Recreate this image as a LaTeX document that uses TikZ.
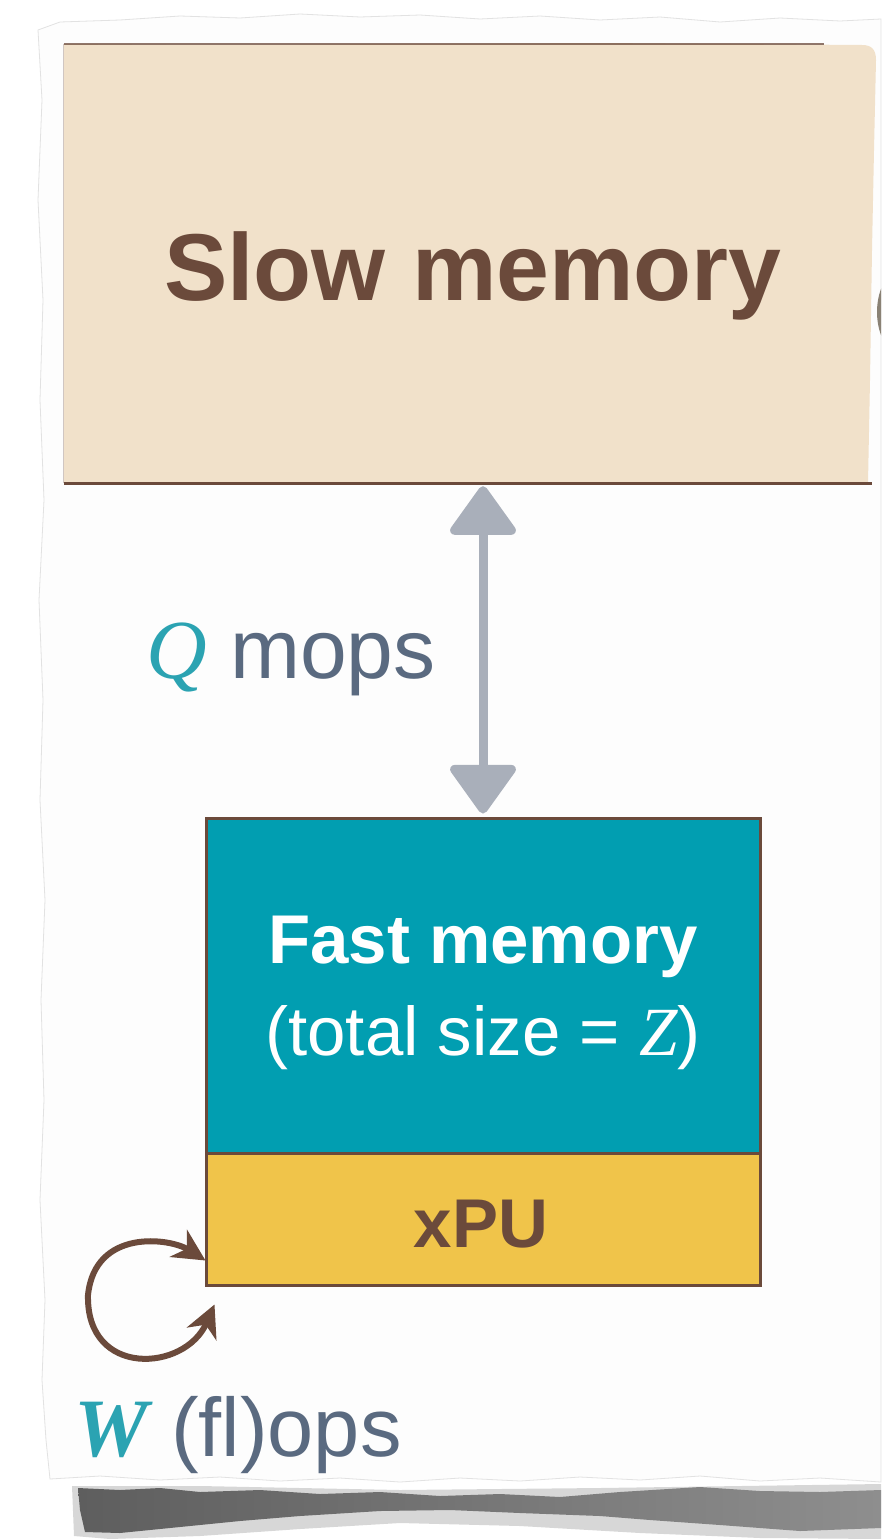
\documentclass[tikz,border=0pt]{standalone}
\usepackage{fontspec}
\setmainfont{Liberation Sans}
\newfontfamily\varfont{Liberation Serif}
\usetikzlibrary{arrows.meta,calc}

\definecolor{slowfill}{HTML}{F1E1CA}
\definecolor{boxbrown}{HTML}{6B4A3B}
\definecolor{fastfill}{HTML}{019EB1}
\definecolor{xpufill}{HTML}{F0C44A}
\definecolor{arrowgrey}{HTML}{A9AFBA}
\definecolor{labelgrey}{HTML}{5A6A80}
\definecolor{varteal}{HTML}{2BA3B2}
\definecolor{paperfill}{HTML}{FDFDFD}
\definecolor{paperedge}{HTML}{E2E2E2}
\definecolor{shadowdark}{HTML}{5E5E5E}
\definecolor{shadowlight}{HTML}{8E8E8E}
\definecolor{backshape}{HTML}{8A8275}

\begin{document}
\begin{tikzpicture}[x=1pt,y=-1pt,
  unitbox/.style={rectangle, inner sep=0pt, draw=boxbrown, line width=3pt},
  textlabel/.style={inner sep=0pt, anchor=base},
  memarrow/.style={draw=arrowgrey, line width=9pt,
    {Triangle[length=52pt,width=72pt,round]}-{Triangle[length=52pt,width=72pt,round]}},
  looparrow/.style={draw=boxbrown, line width=6pt,
    {Stealth[length=32pt,width=32pt,inset=10pt]}-{Stealth[length=32pt,width=32pt,inset=10pt]}}]
\useasboundingbox (0,0) rectangle (881,1539);
\fill[white] (0,0) rectangle (881,1539);

% soft shadow under the torn sheet
\fill[shadowlight, opacity=0.35] (72,1486) -- (200,1486) -- (400,1490) -- (600,1488)
  -- (881,1484) -- (881,1539) -- (760,1538) -- (640,1533) -- (520,1526) -- (400,1523)
  -- (300,1529) -- (200,1536) -- (110,1539) -- (74,1536) -- cycle;
\shade[left color=shadowdark, right color=shadowlight]
  (78,1488) -- (120,1490) -- (160,1488) -- (200,1492) -- (260,1490)
  -- (320,1494) -- (380,1492) -- (440,1496) -- (500,1494) -- (560,1497) -- (620,1492)
  -- (700,1487) -- (760,1491) -- (820,1492) -- (881,1490) -- (881,1528) -- (800,1531)
  -- (720,1525) -- (650,1520) -- (600,1516) -- (520,1513) -- (450,1510) -- (380,1511)
  -- (300,1516) -- (240,1521) -- (180,1527) -- (120,1533) -- (85,1532) -- (80,1510) -- cycle;

% torn sheet
\filldraw[fill=paperfill, draw=paperedge, line width=0.8pt]
  (38,30) -- (60,22) -- (120,20) -- (180,16) -- (240,18) -- (300,14) -- (360,17)
  -- (420,15) -- (480,19) -- (540,16) -- (600,20) -- (660,17) -- (720,22) -- (780,18)
  -- (840,21) -- (881,19) -- (881,1482) -- (820,1478) -- (760,1481) -- (700,1476)
  -- (640,1480) -- (580,1477) -- (520,1481) -- (460,1478) -- (400,1482) -- (340,1478)
  -- (280,1481) -- (220,1477) -- (160,1480) -- (100,1476) -- (50,1479) -- (46,1440)
  -- (42,1380) -- (45,1300) -- (40,1200) -- (44,1100) -- (41,1000) -- (45,900)
  -- (40,800) -- (43,700) -- (39,600) -- (44,500) -- (40,400) -- (43,300) -- (38,200)
  -- (42,100) -- cycle;

% piece of a neighbouring drawing, cut by the edge
\begin{scope}
  \clip (0,0) rectangle (881,1539);
  \fill[backshape] (904,312) ellipse [x radius=27, y radius=44];
\end{scope}

% slow memory block with its torn right edge
\fill[slowfill] (64,44) -- (200,45) -- (400,44) -- (600,43) -- (862,45)
  .. controls (872,45) and (876,50) .. (876,60) -- (874,150) -- (872,250)
  -- (870,380) -- (868,483) -- (64,483) -- cycle;
\node[inner sep=0pt, minimum width=808pt, minimum height=439pt] (slow) at (468,263.5) {};
\draw[boxbrown, line width=3pt] (slow.south west) -- (slow.south east);
\draw[boxbrown, line width=2pt, opacity=0.75] (slow.north west) -- ++(760,0);
\draw[boxbrown, line width=1pt, opacity=0.3] (slow.north west) -- (slow.south west);
\node[textlabel, text=boxbrown, font=\bfseries\fontsize{95}{100}\selectfont]
  (slowlabel) at (473,300) {Slow memory};

% fast memory and processor
\node[unitbox, fill=fastfill, minimum width=554pt, minimum height=335pt]
  (fast) at (483,985.5) {};
\node[unitbox, fill=xpufill, minimum width=554pt, minimum height=132pt]
  (xpu) at (483,1219) {};
\node[textlabel, text=white, font=\bfseries\fontsize{69}{72}\selectfont]
  (fastlabel) at (483,963) {Fast memory};
\node[textlabel, text=white, font=\fontsize{69}{72}\selectfont]
  (sizelabel) at (483,1055) {(total size = {\varfont\itshape Z})};
\node[textlabel, text=boxbrown, font=\bfseries\fontsize{69}{72}\selectfont]
  (xpulabel) at (481,1247) {xPU};

% memory traffic
\draw[memarrow, shorten <=3pt, shorten >=3pt] (fast.north |- slow.south) -- (fast.north);
\node[textlabel, anchor=base west, text=labelgrey, font=\fontsize{84}{86}\selectfont]
  (qlabel) at (146,678) {{\color{varteal}\varfont\itshape Q} mops};

% work loop of the processor
\coordinate (loopin) at ($(xpu.south west)+(1,-26)$);
\coordinate (loopout) at ($(xpu.south west)+(10,18)$);
\draw[looparrow] (loopin) .. controls (170,1238) and (95,1228) .. (88,1295)
  .. controls (86,1378) and (185,1372) .. (loopout);
\node[textlabel, anchor=base west, text=labelgrey, font=\fontsize{83}{86}\selectfont]
  (wlabel) at (74,1456) {{\color{varteal}\varfont\bfseries\itshape W} (fl)ops};
\end{tikzpicture}
\end{document}
